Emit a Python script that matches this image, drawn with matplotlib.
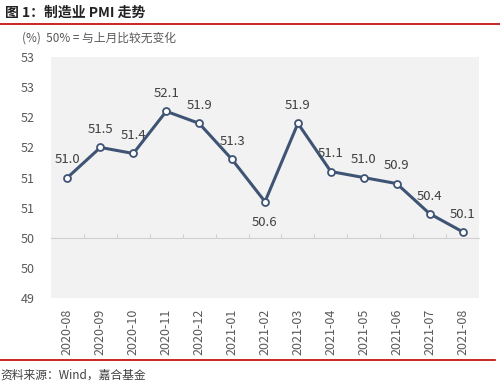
import matplotlib.pyplot as plt
from matplotlib.lines import Line2D

plt.rcParams['font.family'] = ['Noto Sans CJK SC', 'DejaVu Sans']

# data
months = ['2020-08', '2020-09', '2020-10', '2020-11', '2020-12', '2021-01', '2021-02',
          '2021-03', '2021-04', '2021-05', '2021-06', '2021-07', '2021-08']
pmi = [51.0, 51.5, 51.4, 52.1, 51.9, 51.3, 50.6, 51.9, 51.1, 51.0, 50.9, 50.4, 50.1]
y_ticks = [49, 49.5, 50, 50.5, 51, 51.5, 52, 52.5, 53]
y_labels = ['49', '50', '50', '51', '51', '52', '52', '53', '53']

fig = plt.figure(figsize=(5, 3.86), dpi=100)
ax = fig.add_axes([0.102, 0.228, 0.856, 0.624])
ax.set_facecolor('#f2f2f2')

x = list(range(len(months)))
ax.plot(x, pmi, color='#3f5474', lw=2.2, marker='o', ms=5,
        mfc='white', mec='#3f5474', mew=1.3, zorder=3)

for i, v in enumerate(pmi):
    if i == 6:
        # 2021-02 label sits under the point
        ax.annotate(f'{v:.1f}', (i, v), xytext=(0, -10), textcoords='offset points',
                    ha='center', va='top', fontsize=9.5, color='#404040')
    else:
        ax.annotate(f'{v:.1f}', (i, v), xytext=(0, 8), textcoords='offset points',
                    ha='center', va='bottom', fontsize=9.5, color='#404040')

ax.set_xlim(-0.5, len(months) - 0.5)
ax.set_ylim(49, 53)
ax.set_yticks(y_ticks)
ax.set_yticklabels(y_labels)
ax.set_xticks(x)
ax.set_xticklabels(months, rotation=90)
ax.tick_params(axis='both', length=0, labelsize=9, colors='#595959')
ax.tick_params(axis='y', pad=12)
ax.tick_params(axis='x', pad=8)
for s in ax.spines.values():
    s.set_visible(False)

# axis line at 50 with ticks between categories
sec = ax.secondary_xaxis((50 - 49) / 4)
sec.set_xticks([i + 0.5 for i in x[:-1]])
sec.tick_params(direction='in', length=3, color='#d0d0d0', labelbottom=False)
sec.spines['bottom'].set_color('#d0d0d0')

fig.text(0.01, 0.968, '图 1：制造业 PMI 走势', fontsize=10, fontweight='bold',
         color='#222222', va='center')
fig.add_artist(Line2D([0, 1], [0.938, 0.938], color='#c00000', lw=1.2))
fig.text(0.044, 0.902, '(%)  50% = 与上月比较无变化', fontsize=8.5,
         color='#595959', va='center')
fig.add_artist(Line2D([0, 0.99], [0.067, 0.067], color='#c00000', lw=1.2))
fig.text(0.0, 0.027, '资料来源：Wind，嘉合基金', fontsize=8.5,
         color='#404040', va='center')

fig.savefig('out.png', dpi=100)
